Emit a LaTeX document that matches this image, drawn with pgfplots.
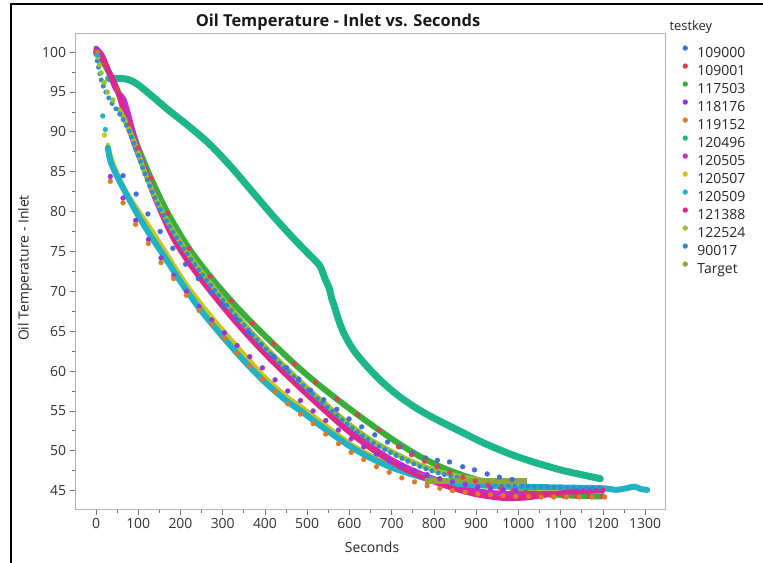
\documentclass[border=0pt]{standalone}
\usepackage{pgfplots}
\pgfplotsset{compat=1.18}
\usepackage{fontspec}
\setmainfont{Open Sans}
\definecolor{cA}{RGB}{64,110,216}   % 109000
\definecolor{cB}{RGB}{217,67,77}    % 109001
\definecolor{cC}{RGB}{58,174,58}    % 117503
\definecolor{cD}{RGB}{154,53,216}   % 118176
\definecolor{cE}{RGB}{221,122,42}   % 119152
\definecolor{cF}{RGB}{29,182,138}   % 120496
\definecolor{cG}{RGB}{198,46,198}   % 120505
\definecolor{cH}{RGB}{203,198,31}   % 120507
\definecolor{cI}{RGB}{32,179,195}   % 120509
\definecolor{cJ}{RGB}{224,38,140}   % 121388
\definecolor{cK}{RGB}{157,192,44}   % 122524
\definecolor{cL}{RGB}{47,143,204}   % 90017
\definecolor{cM}{RGB}{141,168,58}   % Target
\begin{document}
\begin{tikzpicture}
\useasboundingbox (0bp,0bp) rectangle (763bp,563bp);
\fill[white] (0bp,0bp) rectangle (763bp,563bp);
\draw[black,line width=2bp] (11bp,0bp) -- (11bp,559bp) -- (763bp,559bp);
\begin{axis}[at={(75.5bp,54bp)}, anchor=south west, scale only axis,
  width=589.5bp, height=476bp,
  xmin=-48.5, xmax=1347, ymin=42.7, ymax=102.4,
  xtick={0,100,...,1300}, ytick={45,50,...,100},
  minor x tick num=1, minor y tick num=1,
  tick align=outside, major tick length=6bp, minor tick length=3.5bp,
  xtick pos=left, ytick pos=left,
  axis line style={draw=black!30, line width=0.8bp},
  tick style={black!55, line width=0.8bp},
  tick label style={font=\fontsize{14}{16}\selectfont, text=black!80},
  /pgf/number format/assume math mode=true,
  xticklabel style={/pgf/number format/1000 sep={}},
  legend style={at={(axis description cs:1.0299,0.9778)}, anchor=north west,
    draw=none, fill=none, inner sep=0pt, outer sep=0pt, row sep=0pt, column sep=9.6bp,
    font=\fontsize{14}{16}\selectfont,
    nodes={inner sep=0pt, text height=13.85bp, text depth=4.15bp, text=black!85}},
  legend cell align=left,
  legend image code/.code={\fill[#1] (0bp,4.5bp) circle (2.4bp);},
  dense/.style={smooth, no markers, line cap=round, line join=round, line width=5bp},
  sparse/.style={only marks, mark=*, mark size=2.4bp, mark options={draw=none}},
]
% 109000
\addplot[sparse, cA, forget plot] coordinates {(4,99.8)(64,84.5)(95,82.2)(123,79.7)(152,77.5)(182,75.4)(212,73.4)(242,71.6)(272,69.9)(302,68.2)(332,66.5)(362,64.8)(390,63.3)(421,61.8)(451,60.4)(480,59.0)(508,57.6)(539,56.4)(570,55.2)(599,54.0)(629,53.0)(660,52.0)(690,51.1)(720,50.5)(750,49.7)(780,49.1)(808,48.8)(837,48.6)(868,48.0)(896,47.6)(926,47.1)(955,46.7)(985,46.4)};
% 109001
\addplot[sparse, cB, forget plot] coordinates {(0,100)(20,98.5)(50,95.3)(80,91)(100,88.0)(130,84.2)(170,79.8)(220,75.4)(270,71.9)(320,68.8)(370,66.0)(420,63.4)(470,60.9)(520,58.6)(570,56.5)(620,54.5)(670,52.6)(716,50.5)(747,49.5)(778,48.7)(808,48.0)(837,47.3)(868,46.7)(898,46.2)(928,45.7)(958,45.3)(988,45.0)(1018,44.8)(1048,44.6)(1078,44.4)(1108,44.3)(1138,44.3)(1168,44.3)(1198,44.3)};
% 117503
\addplot[dense, cC, line width=6bp, forget plot] coordinates {(0,100)(20,98.5)(50,95.3)(80,91)(100,88.0)(130,84.2)(170,79.8)(220,75.4)(270,71.9)(320,68.8)(370,66.0)(420,63.4)(470,60.9)(520,58.6)(570,56.5)(620,54.5)(670,52.6)(720,50.8)(770,49.2)(820,47.9)(870,46.9)(920,46.1)(970,45.5)(1020,45.0)(1070,44.6)(1120,44.4)(1170,44.3)(1200,44.3)};
% 118176
\addplot[sparse, cD, forget plot] coordinates {(4,100.3)(34,84.4)(64,81.7)(94,78.9)(124,76.5)(154,74.2)(184,72.0)(214,70.0)(244,68.1)(274,66.4)(304,64.8)(334,63.2)(364,61.8)(394,60.4)(424,58.9)(454,57.5)(484,56.3)(514,55.0)(544,53.8)(574,52.6)(604,51.5)(634,50.5)(664,49.6)(694,48.8)(724,48.1)(754,47.5)(784,47.0)(814,46.5)(844,46.1)(874,45.8)(904,45.5)(934,45.3)(964,45.1)(994,45.0)};
% 119152
\addplot[sparse, cE, forget plot] coordinates {(4,100)(34,83.8)(64,81.1)(94,78.4)(124,76.0)(154,73.6)(184,71.6)(214,69.5)(244,67.6)(274,65.9)(304,64.1)(334,62.2)(364,60.6)(394,59.0)(424,57.4)(454,55.9)(484,54.6)(514,53.4)(544,52.1)(574,50.9)(604,49.8)(634,48.9)(664,48.0)(694,47.3)(724,46.6)(754,46.1)(784,45.6)(814,45.3)(844,45.0)(874,44.8)(904,44.6)(934,44.5)(964,44.4)(994,44.3)(1024,44.3)(1054,44.2)(1084,44.2)(1114,44.2)(1144,44.2)(1174,44.2)(1204,44.2)};
% 120496
\addplot[dense, cF, line width=7bp, forget plot] coordinates {(30,96.7)(60,96.7)(80,96.5)(100,95.9)(130,94.6)(170,92.8)(220,90.7)(270,88.4)(320,85.6)(370,82.5)(420,79.4)(470,76.5)(505,74.6)(522,73.7)(532,73.0)(542,71.6)(552,70.4)(558,69.1)(565,68.0)(575,66.3)(588,64.6)(610,62.6)(643,60.5)(680,58.5)(721,56.7)(760,55.3)(800,54.1)(860,52.5)(917,51.0)(980,49.6)(1035,48.6)(1100,47.6)(1150,47.0)(1194,46.5)};
% 120505
\addplot[dense, cG, forget plot] coordinates {(0,100.5)(15,99.6)(30,97.6)(45,95.5)(55,94.8)(65,94.2)(75,92.6)(90,89.6)(105,86.9)(125,84.0)(150,80.6)(180,77.4)(250,71.8)(330,66.5)(410,61.9)(500,57.3)(600,52.6)(700,48.9)(800,46.5)(900,45.0)(1000,44.6)(1100,44.8)(1200,45.0)};
% 120507
\addplot[sparse, cH, forget plot] coordinates {(4,99.4)(20,89.6)};
\addplot[dense, cH, line width=4bp, forget plot] coordinates {(28,88.4)(40,86.2)(60,83.7)(80,81.8)(100,80.2)(130,77.9)(160,75.4)(208,71.4)(250,68.4)(300,65.2)(350,62.2)(400,59.3)(450,56.9)(485,55.6)(530,53.8)(600,51.0)(650,49.5)(700,48.3)(750,47.2)(800,46.4)(850,45.9)(900,45.6)(1000,45.3)(1100,45.2)(1200,45.2)(1260,45.2)};
% 120509
\addplot[sparse, cI, forget plot] coordinates {(4,99.6)(16,92.0)(22,90.3)};
\addplot[dense, cI, line width=6bp, forget plot] coordinates {(28,88.0)(35,86.2)(54,84.0)(75,81.9)(100,79.5)(130,76.9)(160,74.5)(208,70.6)(250,67.5)(300,64.3)(350,61.3)(400,58.6)(450,56.3)(485,55.0)(530,53.2)(600,50.6)(650,49.1)(700,47.9)(750,47.0)(800,46.3)(850,45.9)(900,45.7)(950,45.6)(1000,45.5)(1100,45.4)(1200,45.3)(1230,45.1)(1255,45.3)(1275,45.5)(1290,45.2)(1305,45.1)};
% 121388
\addplot[dense, cJ, forget plot] coordinates {(0,100.3)(10,99.6)(24,98.3)(40,96.6)(52,95)(71,91.5)(95,87.8)(118,84.8)(137,82.0)(177,77.2)(210,74.3)(248,71.5)(290,68.7)(326,66.4)(370,63.8)(406,61.8)(450,59.5)(500,57.0)(550,54.6)(600,52.3)(650,50.3)(700,48.6)(750,47.2)(800,46.1)(850,45.2)(900,44.5)(950,44.1)(980,44.0)(1020,44.1)(1060,44.4)(1100,44.7)(1150,45.0)(1200,45.1)};
% 122524
\addplot[sparse, cK, forget plot] coordinates {(8,98.4)(12,97.4)(19,96.2)(27,95.0)(40,94.0)};
\addplot[dense, cK, forget plot] coordinates {(55,92.8)(75,90.7)(95,88.1)(115,85.0)(137,82.2)(160,79.7)(185,77.4)(225,74.2)(272,70.9)(320,67.8)(366,65.0)(414,62.3)(460,59.9)(510,57.4)(560,55.1)(600,53.3)(650,51.4)(700,49.9)(750,48.6)(800,47.6)(850,46.9)(900,46.4)(950,46.1)(1000,45.9)};
% 90017
\addplot[dense, cL, dash pattern=on 0bp off 6.5bp, forget plot] coordinates {(0,99.7)(12,96.6)(24,94.9)(40,93.4)(54,92.4)(75,90.5)(95,87.8)(115,84.8)(137,82.0)(160,79.5)(185,77.2)(225,74.0)(272,70.7)(320,67.6)(366,64.8)(414,62.1)(460,59.7)(510,57.2)(560,54.9)(600,53.1)(650,51.2)(700,49.7)(750,48.4)(800,47.4)(850,46.7)(900,46.2)(950,45.8)(1000,45.6)(1100,45.4)(1200,45.3)};
% Target
\addplot[no markers, cM, line width=6.5bp, forget plot] coordinates {(780,46.2)(1020,46.2)};
% legend
\addlegendimage{cA}\addlegendentry{109000}
\addlegendimage{cB}\addlegendentry{109001}
\addlegendimage{cC}\addlegendentry{117503}
\addlegendimage{cD}\addlegendentry{118176}
\addlegendimage{cE}\addlegendentry{119152}
\addlegendimage{cF}\addlegendentry{120496}
\addlegendimage{cG}\addlegendentry{120505}
\addlegendimage{cH}\addlegendentry{120507}
\addlegendimage{cI}\addlegendentry{120509}
\addlegendimage{cJ}\addlegendentry{121388}
\addlegendimage{cK}\addlegendentry{122524}
\addlegendimage{cL}\addlegendentry{90017}
\addlegendimage{cM}\addlegendentry{Target}
\end{axis}
\node[font=\bfseries\fontsize{16.5}{19}\selectfont, text=black!90] at (338bp,541bp) {Oil Temperature - Inlet vs. Seconds};
\node[font=\fontsize{14}{16}\selectfont, text=black!85] at (372bp,16bp) {Seconds};
\node[font=\fontsize{14}{16}\selectfont, text=black!85, rotate=90] at (25bp,295bp) {Oil Temperature - Inlet};
\node[font=\fontsize{13}{15}\selectfont, text=black!85, anchor=west] at (666bp,536bp) {testkey};
\end{tikzpicture}
\end{document}
